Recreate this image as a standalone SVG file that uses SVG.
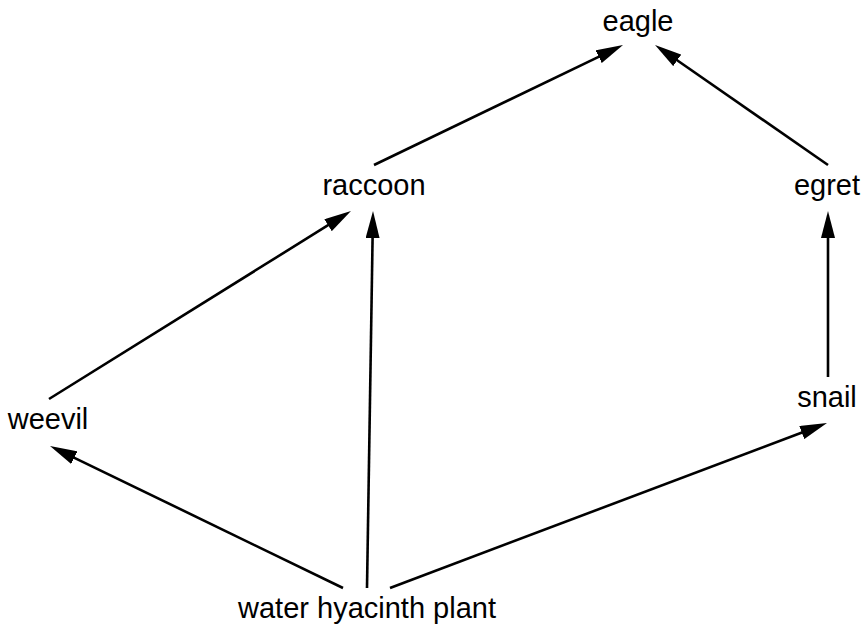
<svg xmlns="http://www.w3.org/2000/svg" width="862" height="630" viewBox="0 0 862 630">
<style>
.lbl{font-family:"Liberation Sans",Arial,sans-serif;font-size:29px;fill:#000;text-anchor:middle}
.edge{stroke:#000;stroke-width:2.6;fill:none;marker-end:url(#ah)}
</style>
<defs>
<marker id="ah" viewBox="0 0 27 14" refX="1" refY="7" markerWidth="27" markerHeight="14" markerUnits="userSpaceOnUse" orient="auto">
<path d="M0,0 L27,7 L0,14 z" fill="#000"/>
</marker>
</defs>
<rect width="862" height="630" fill="#fff"/>
<g id="connectors">
<line class="edge" x1="374" y1="165" x2="599.6" y2="56.3"/>
<line class="edge" x1="828" y1="165" x2="676.4" y2="59.8"/>
<line class="edge" x1="49" y1="399" x2="328.9" y2="224.7"/>
<line class="edge" x1="367" y1="588" x2="372.6" y2="237"/>
<line class="edge" x1="828" y1="377" x2="828" y2="237"/>
<line class="edge" x1="343" y1="588" x2="73.4" y2="457.3"/>
<line class="edge" x1="390" y1="588" x2="802.7" y2="432.2"/>
</g>
<g id="eagle"><text class="lbl" x="638" y="31">eagle</text></g>
<g id="raccoon"><text class="lbl" x="374" y="195">raccoon</text></g>
<g id="egret"><text class="lbl" x="827" y="195">egret</text></g>
<g id="weevil"><text class="lbl" x="48" y="429">weevil</text></g>
<g id="snail"><text class="lbl" x="827" y="407">snail</text></g>
<g id="water_hyacinth_plant"><text class="lbl" x="367" y="618">water hyacinth plant</text></g>
</svg>
